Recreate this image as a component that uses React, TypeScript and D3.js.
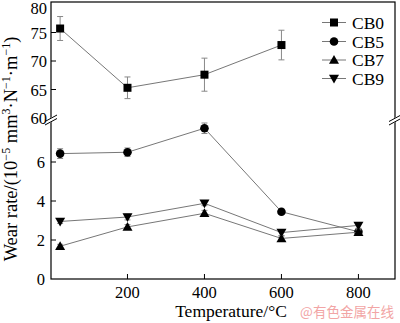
import React from "react";
import * as d3 from "d3";

const temps = [25, 200, 400, 600, 800];
const cb0 = [75.7, 65.3, 67.6, 72.8];
const cb0Err = [2.1, 1.9, 2.9, 2.6];
const cb5 = [6.43, 6.5, 7.73, 3.45, 2.42];
const cb5Err = [0.25, 0.22, 0.27, 0.08, 0.08];
const cb7 = [1.68, 2.67, 3.37, 2.08, 2.4];
const cb7Err = [0.1, 0.12, 0.15, 0.12, 0.12];
const cb9 = [2.95, 3.18, 3.88, 2.38, 2.75];
const cb9Err = [0.1, 0.15, 0.12, 0.15, 0.15];
const xTicks = [200, 400, 600, 800];
const upperTicks = [60, 65, 70, 75, 80];
const lowerTicks = [0, 2, 4, 6];
const seriesNames = ["CB0", "CB5", "CB7", "CB9"];

const W = 400, H = 323;
const left = 51, right = 395, top = 2, bottom = 279, breakY = 120;

const x = d3.scaleLinear().domain([0, 895]).range([50.5, 395]);
const yU = d3.scaleLinear().domain([60, 80]).range([118, 4]);
const yL = d3.scaleLinear().domain([0, 8]).range([279, 123]);

const font = "'Liberation Serif', 'Times New Roman', serif";
const lineColor = "#777";

function Marker({ kind, cx, cy }: { kind: string; cx: number; cy: number }) {
  if (kind === "CB0") return <rect x={cx - 4} y={cy - 4} width={8} height={8} fill="#000" />;
  if (kind === "CB5") return <circle cx={cx} cy={cy} r={4.3} fill="#000" />;
  const s = 5;
  if (kind === "CB7")
    return <path d={`M${cx},${cy - s} L${cx + s},${cy + s * 0.75} L${cx - s},${cy + s * 0.75}Z`} fill="#000" />;
  return <path d={`M${cx},${cy + s} L${cx + s},${cy - s * 0.75} L${cx - s},${cy - s * 0.75}Z`} fill="#000" />;
}

function Series({ name, vals, errs, y }: { name: string; vals: number[]; errs: number[]; y: d3.ScaleLinear<number, number> }) {
  const line = d3.line<number>().x((_, i) => x(temps[i])).y((v) => y(v));
  return (
    <g>
      <path d={line(vals) || ""} fill="none" stroke={lineColor} strokeWidth={1} />
      {vals.map((v, i) => {
        const cx = x(temps[i]);
        const y1 = y(v + errs[i]);
        const y2 = y(v - errs[i]);
        return (
          <g key={i} stroke="#888" strokeWidth={1}>
            <line x1={cx} x2={cx} y1={y1} y2={y2} />
            <line x1={cx - 3} x2={cx + 3} y1={y1} y2={y1} />
            <line x1={cx - 3} x2={cx + 3} y1={y2} y2={y2} />
          </g>
        );
      })}
      {vals.map((v, i) => (
        <Marker key={i} kind={name} cx={x(temps[i])} cy={y(v)} />
      ))}
    </g>
  );
}

export default function App() {
  const legendY = [22.5, 41.5, 60, 78.5];
  return (
    <svg width={W} height={H} style={{ position: "absolute", left: 0, top: 0, background: "#fff" }} fontFamily={font}>
      <rect x={0} y={0} width={W} height={H} fill="#fff" />
      {/* frame */}
      <rect x={left} y={top} width={right - left} height={bottom - top} fill="none" stroke="#000" strokeWidth={1.2} />
      {/* break marks */}
      {[left, right].map((bx, k) => (
        <g key={k} stroke="#000" strokeWidth={1}>
          <rect x={bx - 5} y={breakY - 2} width={10} height={4} fill="#fff" stroke="none" transform={`rotate(-30 ${bx} ${breakY})`} />
          <line x1={bx - 6} y1={breakY + 1.5} x2={bx + 6} y2={breakY - 5} />
          <line x1={bx - 6} y1={breakY + 5} x2={bx + 6} y2={breakY - 1.5} />
        </g>
      ))}
      {/* y ticks upper */}
      {upperTicks.map((t) => (
        <g key={"u" + t}>
          {t !== 60 && t !== 80 && <line x1={left} x2={left + 5} y1={yU(t)} y2={yU(t)} stroke="#000" />}
          <text x={left - 4} y={Math.max(yU(t) + 6, 14)} fontSize={16.5} textAnchor="end">{t}</text>
        </g>
      ))}
      {lowerTicks.map((t) => (
        <g key={"l" + t}>
          {t !== 0 && <line x1={left} x2={left + 5} y1={yL(t)} y2={yL(t)} stroke="#000" />}
          <text x={left - 6} y={yL(t) + 6} fontSize={16.5} textAnchor="end">{t}</text>
        </g>
      ))}
      {xTicks.map((t) => (
        <g key={"x" + t}>
          <line x1={x(t)} x2={x(t)} y1={bottom} y2={bottom - 5} stroke="#000" />
          <text x={x(t)} y={bottom + 19} fontSize={16.5} textAnchor="middle">{t}</text>
        </g>
      ))}
      <text x={231} y={317} fontSize={17.5} textAnchor="middle">Temperature/°C</text>
      <text x={347} y={317} fontSize={13.5} textAnchor="middle" fill="#f2a5a5" fontFamily="'Noto Sans CJK SC', sans-serif">@有色金属在线</text>
      <text transform={`translate(17,${149}) rotate(-90)`} fontSize={18.5} textAnchor="middle">
        Wear rate/(10<tspan dy={-7} fontSize={12}>−5</tspan>
        <tspan dy={7}> mm</tspan><tspan dy={-7} fontSize={12}>3</tspan>
        <tspan dy={7}>·N</tspan><tspan dy={-7} fontSize={12}>−1</tspan>
        <tspan dy={7}>·m</tspan><tspan dy={-7} fontSize={12}>−1</tspan>
        <tspan dy={7}>)</tspan>
      </text>
      <Series name="CB0" vals={cb0} errs={cb0Err} y={yU} />
      <Series name="CB5" vals={cb5} errs={cb5Err} y={yL} />
      <Series name="CB7" vals={cb7} errs={cb7Err} y={yL} />
      <Series name="CB9" vals={cb9} errs={cb9Err} y={yL} />
      {seriesNames.map((n, i) => (
        <g key={n}>
          <line x1={322} x2={346} y1={legendY[i]} y2={legendY[i]} stroke={lineColor} />
          <Marker kind={n} cx={334} cy={legendY[i]} />
          <text x={352} y={legendY[i] + 6} fontSize={17.5}>{n}</text>
        </g>
      ))}
    </svg>
  );
}
